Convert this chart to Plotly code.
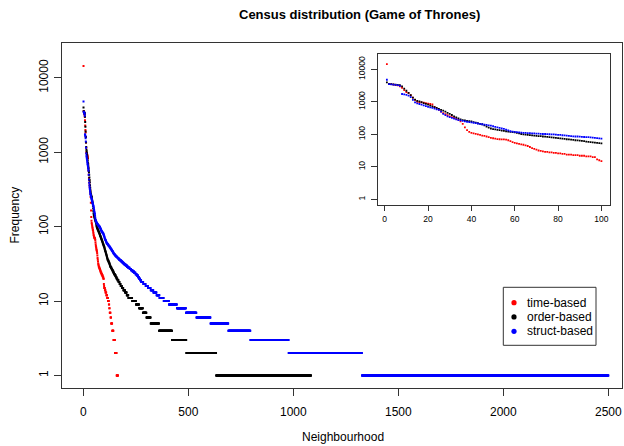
import numpy as np
import plotly.graph_objects as go

W, H = 624, 446

# ---------------- data (rank-frequency distributions) ----------------
# frequencies of ranks 1..100, then runs (value, count) for the tail
red_head = [14500, 3600, 3500, 3400, 3300, 3200, 3000, 2700, 2300, 2000,
            1850, 1600, 1350, 1150, 1000, 970, 960, 940, 920, 890,
            860, 830, 700, 620, 565, 500, 450, 420, 390, 360,
            340, 320, 300, 280, 250, 210, 165, 135, 120, 112,
            108, 104, 100, 96, 92, 90, 86, 82, 78, 76,
            74, 72, 71, 70, 70, 69, 66, 62, 58, 55,
            53, 51, 49, 48, 46, 44, 41, 38, 36, 34,
            32, 31, 30, 29, 29, 28, 28, 27, 27, 26,
            26, 25, 25, 24, 24, 24, 23, 23, 23, 22,
            22, 22, 21, 21, 21, 20, 20, 17, 16, 15]
red_tail_values = [15, 14, 13, 12, 11, 10, 9, 8, 7, 6, 5, 4, 3, 2, 1]
red_tail_counts = [2, 3, 4, 4, 4, 4, 2, 2, 4, 3, 5, 6, 7, 8, 7]

black_head = [4000, 3550, 3500, 3450, 3400, 3350, 3300, 3000, 2550, 2200,
              1900, 1600, 1350, 1180, 1080, 1030, 980, 920, 870, 820,
              770, 720, 690, 650, 610, 570, 540, 500, 460, 425,
              395, 360, 335, 310, 290, 275, 268, 260, 255, 250,
              240, 230, 220, 212, 205, 190, 175, 162, 152, 145,
              142, 138, 135, 131, 128, 125, 122, 120, 117, 115,
              111, 107, 103, 100, 98, 96, 95, 93, 91, 90,
              89, 88, 86, 85, 84, 82, 81, 80, 78, 77,
              75, 74, 73, 71, 70, 69, 68, 66, 65, 64,
              63, 62, 60, 59, 58, 57, 56, 55, 54, 53]
black_tail_values = [52, 50, 49, 48, 47, 46, 45, 44, 43, 42, 41,
                     40, 39, 38, 37, 36, 35, 34, 33, 32, 31, 30,
                     29, 28, 27, 26, 25, 24, 23, 22, 21, 20, 19, 18, 17, 16,
                     15, 14, 13, 12, 11, 10, 9, 8, 7, 6, 5, 4, 3, 2, 1]
black_tail_counts = [1, 1, 1, 1, 1, 1, 1, 1, 1, 1, 1,
                     1, 1, 1, 1, 2, 2, 2, 2, 2, 1, 2,
                     3, 3, 3, 3, 3, 3, 4, 4, 4, 4, 5, 5, 5, 6,
                     7, 8, 8, 8, 18, 18, 15, 18, 17, 20, 40, 62, 68, 142, 452]

blue_head = [4800, 3500, 3450, 3400, 3350, 3300, 3100, 1750, 1700, 1650,
             1550, 1400, 1150, 960, 900, 860, 820, 780, 740, 700,
             680, 650, 620, 590, 565, 500, 430, 390, 360, 340,
             320, 305, 290, 275, 268, 260, 252, 245, 240, 234,
             228, 222, 216, 210, 205, 200, 195, 190, 185, 178,
             170, 165, 158, 152, 148, 140, 132, 125, 122, 120,
             118, 116, 114, 112, 111, 110, 109, 108, 107, 106,
             105, 104, 103, 103, 102, 101, 100, 100, 99, 97,
             96, 94, 93, 91, 90, 88, 87, 86, 86, 85,
             84, 83, 82, 82, 81, 80, 78, 77, 75, 74]
blue_tail_values = [72, 70, 69, 68, 67, 66, 65, 64, 63, 62, 61,
                    60, 59, 58, 57, 56, 55, 54, 53, 52, 51, 50, 49, 48, 47, 46, 45, 44,
                    43, 42, 41, 40, 39, 38, 37, 36, 35, 34, 33, 32, 31, 30, 29,
                    28, 27, 26, 25, 24, 23, 22, 21, 20, 19,
                    18, 17, 16, 15, 14, 13, 12, 11, 10, 9, 8, 7, 6, 5, 4, 3, 2, 1]
blue_tail_counts = [1, 1, 1, 1, 1, 1, 1, 1, 1, 1, 1,
                    2, 2, 2, 2, 2, 2, 2, 2, 2, 2, 2, 2, 2, 2, 2, 2, 2,
                    3, 3, 3, 4, 4, 4, 4, 5, 5, 5, 5, 5, 6, 6, 6,
                    7, 7, 7, 7, 7, 6, 6, 5, 5, 5,
                    10, 11, 11, 13, 13, 15, 14, 20, 25, 38, 43, 50, 67, 85, 105, 182, 349, 1174]

series_names = ["time-based", "order-based", "struct-based"]
series_colors = ["#FF0000", "#000000", "#0000FF"]

x_ticks = [0, 500, 1000, 1500, 2000, 2500]
inset_x_ticks = [0, 20, 40, 60, 80, 100]
y_ticks = [1, 10, 100, 1000, 10000]
y_tick_text = ["1", "10", "100", "1000", "10000"]


def expand(head, tail_values, tail_counts):
    vals = np.concatenate([np.asarray(head, float),
                           np.repeat(np.asarray(tail_values, float), tail_counts)])
    ranks = np.arange(1, len(vals) + 1)
    return ranks, vals


series = [expand(red_head, red_tail_values, red_tail_counts),
          expand(black_head, black_tail_values, black_tail_counts),
          expand(blue_head, blue_tail_values, blue_tail_counts)]

FONT = "Liberation Sans, Arial, Helvetica, sans-serif"
AXC = "#333333"

fig = go.Figure()
for (r, v), name, col in zip(series, series_names, series_colors):
    fig.add_trace(go.Scatter(x=r, y=v, mode="markers", name=name,
                             marker=dict(color=col, size=2.0, symbol="square", line=dict(width=0)),
                             xaxis="x", yaxis="y", hoverinfo="skip", showlegend=False))
for (r, v), name, col in zip(series, series_names, series_colors):
    m = r <= 100
    fig.add_trace(go.Scatter(x=r[m], y=v[m], mode="markers", name=name,
                             marker=dict(color=col, size=1.8, symbol="square", line=dict(width=0)),
                             xaxis="x2", yaxis="y2", hoverinfo="skip", showlegend=False))


def px_x(p):
    return p / W


def px_y(p):
    return 1 - p / H


main_l, main_r, main_t, main_b = 62.3, 622.0, 42.7, 388.3
ins_l, ins_r, ins_t, ins_b = 378.3, 610.0, 54.0, 205.0
yr = [-0.172, 4.473]

fig.update_layout(
    width=W, height=H,
    margin=dict(l=0, r=0, t=0, b=0),
    paper_bgcolor="white", plot_bgcolor="white",
    font=dict(family=FONT, size=12, color="black"),
    showlegend=False,
    xaxis=dict(domain=[px_x(main_l), px_x(main_r)], range=[-100, 2565], anchor="y",
               tickvals=x_ticks, ticks="outside", ticklen=7, tickcolor=AXC,
               showline=True, mirror=True, linecolor=AXC, linewidth=1,
               showgrid=False, zeroline=False, tickfont=dict(size=12),
               ticklabelstandoff=5),
    yaxis=dict(domain=[px_y(main_b), px_y(main_t)], type="log", range=yr, anchor="x",
               tickvals=y_ticks, ticktext=y_tick_text, tickangle=-90,
               ticks="outside", ticklen=7, tickcolor=AXC,
               showline=True, mirror=True, linecolor=AXC, linewidth=1,
               showgrid=False, zeroline=False, tickfont=dict(size=12),
               ticklabelstandoff=2),
    xaxis2=dict(domain=[px_x(ins_l), px_x(ins_r)], range=[-2.96, 103.96], anchor="y2",
                tickvals=inset_x_ticks, ticks="outside", ticklen=5, tickcolor=AXC,
                showline=True, mirror=True, linecolor=AXC, linewidth=1,
                showgrid=False, zeroline=False, tickfont=dict(size=8.5),
                ticklabelstandoff=1),
    yaxis2=dict(domain=[px_y(ins_b), px_y(ins_t)], type="log", range=yr, anchor="x2",
                tickvals=y_ticks, ticktext=y_tick_text, tickangle=-90,
                ticks="outside", ticklen=6, tickcolor=AXC,
                showline=True, mirror=True, linecolor=AXC, linewidth=1,
                showgrid=False, zeroline=False, tickfont=dict(size=8.5),
                ticklabelstandoff=3),
)

annotations = [
    dict(text="<b>Census distribution (Game of Thrones)</b>", x=px_x(359), y=px_y(15),
         xref="paper", yref="paper", showarrow=False, font=dict(size=13),
         xanchor="center", yanchor="middle"),
    dict(text="Neighbourhood", x=px_x(343), y=px_y(437), xref="paper", yref="paper",
         showarrow=False, font=dict(size=12), xanchor="center", yanchor="middle"),
    dict(text="Frequency", x=px_x(14), y=px_y(215.5), xref="paper", yref="paper",
         showarrow=False, font=dict(size=12), textangle=-90, xanchor="center", yanchor="middle"),
]

# legend box drawn by hand (R style)
leg_l, leg_r, leg_t, leg_b = 503.3, 596.0, 287.3, 345.3
shapes = [dict(type="rect", xref="paper", yref="paper",
               x0=px_x(leg_l), x1=px_x(leg_r), y0=px_y(leg_b), y1=px_y(leg_t),
               line=dict(color=AXC, width=1), fillcolor="white", layer="above")]
row_y = [302.7, 316.9, 331.3]
for name, col, ry in zip(series_names, series_colors, row_y):
    rr = 2.6
    shapes.append(dict(type="circle", xref="paper", yref="paper",
                       x0=px_x(514 - rr), x1=px_x(514 + rr), y0=px_y(ry + rr), y1=px_y(ry - rr),
                       line=dict(width=0), fillcolor=col, layer="above"))
    annotations.append(dict(text=name, x=px_x(524.5), y=px_y(ry), xref="paper", yref="paper",
                            showarrow=False, font=dict(size=12), xanchor="left", yanchor="middle"))

fig.update_layout(annotations=annotations, shapes=shapes)
fig.write_html("out.html")
